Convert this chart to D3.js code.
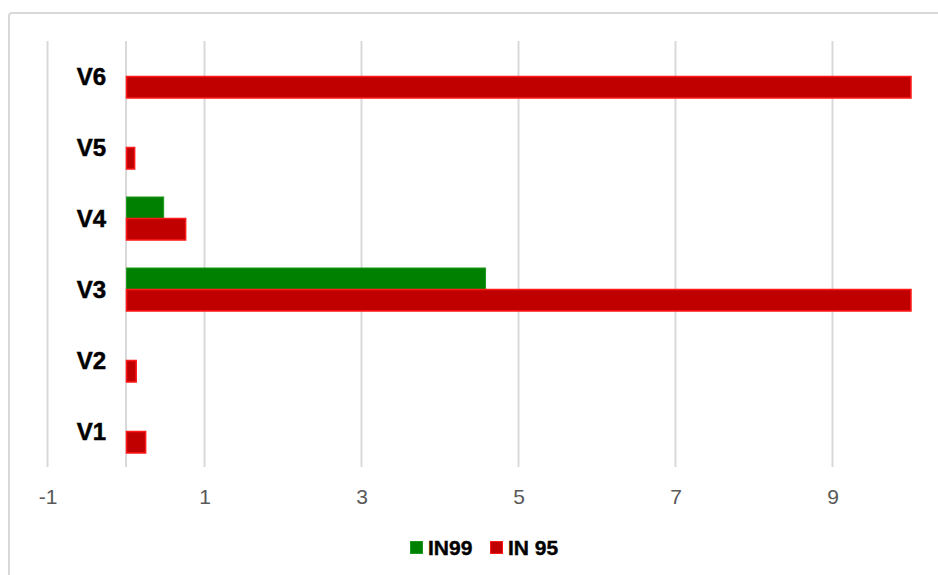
<!DOCTYPE html>
<html>
<head>
<meta charset="utf-8">
<script src="https://cdn.jsdelivr.net/npm/d3@7"></script>
<style>
  html, body { margin: 0; padding: 0; background: #fff; }
  svg { display: block; }
  text { font-family: "Liberation Sans", Arial, sans-serif; }
</style>
</head>
<body>
<svg id="chart" width="938" height="575"></svg>
<script>
// Categories, bottom to top as read on the axis
const categories = ["V1", "V2", "V3", "V4", "V5", "V6"];
const seriesNames = ["IN99", "IN 95"];
const in99 = [0, 0, 4.58, 0.48, 0, 0];
const in95 = [0.25, 0.13, 10, 0.76, 0.11, 10];
const tickValues = [-1, 1, 3, 5, 7, 9];

const colors = {
  "IN99": { fill: "#008000", stroke: "#1f9a1f" },
  "IN 95": { fill: "#C00000", stroke: "#FF1a1a" }
};

const svg = d3.select("#chart");
const W = 938, H = 575;

// Chart frame (only left and top edges fall inside the view)
svg.append("path")
  .attr("d", `M9,${H} L9,16 Q9,13 12,13 L${W},13`)
  .attr("fill", "none")
  .attr("stroke", "#d9d9d9")
  .attr("stroke-width", 2);

const plot = { left: 47.5, right: 911, top: 41, bottom: 467 };

const x = d3.scaleLinear().domain([-1, 10]).range([plot.left, plot.right]);
const y = d3.scaleBand()
  .domain(categories.slice().reverse())
  .range([plot.top, plot.bottom])
  .paddingInner(0).paddingOuter(0);
const ySub = d3.scaleBand()
  .domain(seriesNames)
  .range([0, y.bandwidth()])
  .paddingInner(0)
  .paddingOuter(0.65);

// Vertical gridlines
svg.append("g")
  .selectAll("line")
  .data(tickValues)
  .join("line")
  .attr("x1", d => x(d)).attr("x2", d => x(d))
  .attr("y1", plot.top).attr("y2", plot.bottom)
  .attr("stroke", "#d9d9d9")
  .attr("stroke-width", 2);

// Category axis line at zero
svg.append("line")
  .attr("x1", x(0)).attr("x2", x(0))
  .attr("y1", plot.top).attr("y2", plot.bottom)
  .attr("stroke", "#d9d9d9")
  .attr("stroke-width", 2);

// Bars
const rows = categories.map((c, i) => ({ cat: c, "IN99": in99[i], "IN 95": in95[i] }));
const groups = svg.append("g")
  .selectAll("g")
  .data(rows)
  .join("g")
  .attr("transform", d => `translate(0,${y(d.cat)})`);

groups.selectAll("rect")
  .data(d => seriesNames.map(s => ({ s, v: d[s] })).filter(e => e.v > 0))
  .join("rect")
  .attr("x", x(0) + 0.5)
  .attr("y", d => ySub(d.s))
  .attr("width", d => Math.max(0, x(d.v) - x(0) - 0.5))
  .attr("height", ySub.bandwidth())
  .attr("fill", d => colors[d.s].fill)
  .attr("stroke", d => colors[d.s].stroke)
  .attr("stroke-width", d => d.s === "IN 95" ? 1.5 : 1);

// Value axis labels
const xAxis = d3.axisBottom(x).tickValues(tickValues).tickSize(0).tickFormat(d3.format("d"));
const gx = svg.append("g")
  .attr("transform", `translate(0,${plot.bottom})`)
  .call(xAxis);
gx.select(".domain").remove();
gx.selectAll("text")
  .attr("dy", 0)
  .attr("y", 37)
  .attr("font-size", 21)
  .attr("font-family", null)
  .attr("fill", "#595959")
  .text(d => d < 0 ? "-" + Math.abs(d) : d);

// Category labels
const yAxis = d3.axisLeft(y).tickSize(0);
const gy = svg.append("g")
  .attr("transform", `translate(106,0)`)
  .call(yAxis);
gy.select(".domain").remove();
gy.selectAll("text")
  .attr("x", 0)
  .attr("dy", "0.36em")
  .attr("font-size", 24)
  .attr("font-family", null)
  .attr("font-weight", "bold")
  .attr("fill", "#000")
  .attr("stroke", "#000")
  .attr("stroke-width", 0.5);

// Legend
const legendItems = [
  { name: "IN99", sx: 410, tx: 428 },
  { name: "IN 95", sx: 490, tx: 508 }
];
const lg = svg.append("g");
lg.selectAll("rect")
  .data(legendItems)
  .join("rect")
  .attr("x", d => d.sx + 0.5).attr("y", 541.5)
  .attr("width", 12).attr("height", 12)
  .attr("fill", d => colors[d.name].fill)
  .attr("stroke", d => colors[d.name].stroke)
  .attr("stroke-width", 1);
lg.selectAll("text")
  .data(legendItems)
  .join("text")
  .attr("x", d => d.tx).attr("y", 555)
  .attr("font-size", 21)
  .attr("font-weight", "bold")
  .attr("fill", "#000")
  .attr("stroke", "#000")
  .attr("stroke-width", 0.4)
  .text(d => d.name);
</script>
</body>
</html>
